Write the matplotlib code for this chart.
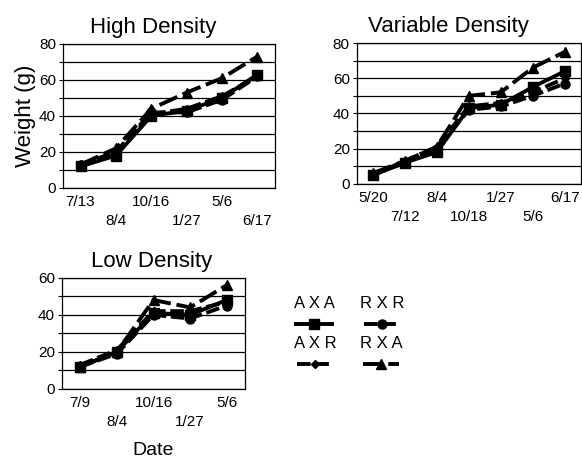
import matplotlib
matplotlib.use('Agg')
import matplotlib.pyplot as plt
from matplotlib.ticker import MultipleLocator

plt.rcParams['font.family'] = ['Liberation Sans', 'DejaVu Sans']

# data (weight in g)
high_dates = ['7/13', '8/4', '10/16', '1/27', '5/6', '6/17']
high_axa = [12, 18, 40, 43, 50, 63]
high_rxr = [13, 20, 42, 42, 49, 62]
high_axr = [12, 19, 41, 44, 51, 62]
high_rxa = [13, 22, 44, 53, 61, 73]

var_dates = ['5/20', '7/12', '8/4', '10/18', '1/27', '5/6', '6/17']
var_axa = [5, 12, 18, 43, 45, 55, 64]
var_rxr = [5, 12, 20, 42, 44, 50, 57]
var_axr = [5, 13, 21, 44, 46, 52, 60]
var_rxa = [6, 13, 21, 50, 52, 66, 75]

low_dates = ['7/9', '8/4', '10/16', '1/27', '5/6']
low_axa = [12, 20, 41, 40, 48]
low_rxr = [12, 19, 40, 38, 45]
low_axr = [13, 21, 42, 42, 47]
low_rxa = [12, 20, 48, 44, 56]

crosses = ['A X A', 'R X R', 'A X R', 'R X A']
markers = ['s', 'o', 'D', '^']
msizes = [7, 6.5, 4.5, 7]
styles = ['-', (0, (3.5, 1.2)), (0, (3.5, 1.2)), (0, (5, 1.5))]


def panel(rect, dates, series, ymax, title, title_x):
    ax = fig.add_axes(rect)
    x = range(len(dates))
    lines = []
    for vals, m, ms, ls in zip(series, markers, msizes, styles):
        ln, = ax.plot(x, vals, color='black', lw=2.8, ls=ls,
                      marker=m, ms=ms, mfc='black', mec='black')
        lines.append(ln)
    ax.set_xlim(-0.5, len(dates) - 0.5)
    ax.set_ylim(0, ymax)
    ax.yaxis.set_major_locator(MultipleLocator(20))
    ax.yaxis.set_minor_locator(MultipleLocator(10))
    ax.grid(True, which='both', axis='y', color='black', lw=0.9)
    ax.set_axisbelow(True)
    ax.set_xticks(list(x))
    ax.set_xticklabels([d if i % 2 == 0 else '\n' + d for i, d in enumerate(dates)])
    for t in ax.get_xticklabels():
        t.set_linespacing(1.5)
    ax.tick_params(axis='x', length=0, pad=5, labelsize=11)
    ax.tick_params(axis='y', which='both', length=3, width=0.8, pad=2, labelsize=11)
    for s in ax.spines.values():
        s.set_linewidth(0.9)
    ax.set_title(title, fontsize=16, x=title_x, pad=8)
    return ax, lines


fig = plt.figure(figsize=(5.82, 4.63), dpi=100)

ax1, lines = panel([0.108, 0.594, 0.3645, 0.311], high_dates,
                   [high_axa, high_rxr, high_axr, high_rxa], 80, 'High Density', 0.425)
ax1.set_ylabel('Weight (g)', fontsize=16, labelpad=2)

ax2, _ = panel([0.613, 0.603, 0.385, 0.304], var_dates,
               [var_axa, var_rxr, var_axr, var_rxa], 80, 'Variable Density', 0.41)

ax3, _ = panel([0.1065, 0.16, 0.3145, 0.24], low_dates,
               [low_axa, low_rxr, low_axr, low_rxa], 60, 'Low Density', 0.49)
ax3.set_xlabel('Date', fontsize=14, labelpad=9)

# legend: label above each key, two columns
spots = [(0.505, 0.36), (0.618, 0.36), (0.505, 0.274), (0.618, 0.274)]
for ln, name, (lx, ly) in zip(lines, crosses, spots):
    lg = fig.legend([ln], [''], title=name, title_fontsize=12,
                    loc='upper left', bbox_to_anchor=(lx, ly), frameon=False,
                    handlelength=2.6, handletextpad=0, borderpad=0,
                    borderaxespad=0, numpoints=1)

fig.savefig('out.png', dpi=100)
